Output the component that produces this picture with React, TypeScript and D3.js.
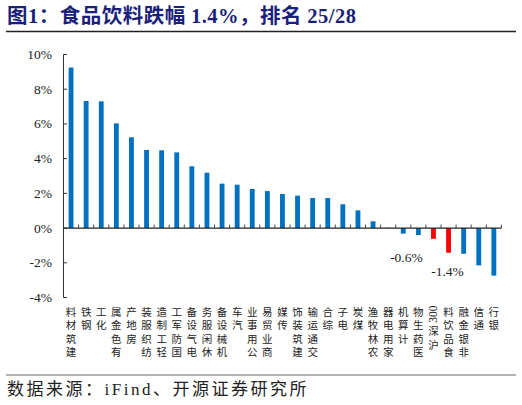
import React from "react";
import * as d3 from "d3";

const titleParts = [
  { t: "图", latin: false },
  { t: "1", latin: true },
  { t: "：食品饮料跌幅 ", latin: false },
  { t: "1.4%", latin: true },
  { t: "，排名 ", latin: false },
  { t: "25/28", latin: true },
];
const footerParts = [
  { t: "数据来源：", latin: false },
  { t: "iFind", latin: true },
  { t: "、开源证券研究所", latin: false },
];

const categories = [
  "建筑材料", "钢铁", "化工", "有色金属", "房地产", "纺织服装", "轻工制造", "国防军工",
  "电气设备", "休闲服务", "机械设备", "汽车", "公用事业", "商业贸易", "传媒", "建筑装饰",
  "交通运输", "综合", "电子", "煤炭", "农林牧渔", "家用电器", "计算机", "医药生物",
  "沪深300", "食品饮料", "非银金融", "通信", "银行",
];
const values = [
  9.25, 7.32, 7.3, 6.03, 5.23, 4.5, 4.48, 4.36,
  3.56, 3.19, 2.56, 2.5, 2.25, 2.13, 1.96, 1.87,
  1.73, 1.73, 1.37, 1.02, 0.39, 0.02, -0.32, -0.4,
  -0.62, -1.42, -1.48, -2.15, -2.74,
];
const highlighted = ["沪深300", "食品饮料"];
const dataLabels = [
  { cat: "沪深300", text: "-0.6%", dx: -27 },
  { cat: "食品饮料", text: "-1.4%", dx: -1 },
];
const yTicks = [-4, -2, 0, 2, 4, 6, 8, 10];

const W = 522;
const H = 405;
const CJK = "'Noto Sans CJK SC', 'Noto Sans', sans-serif";
const SERIF = "'Liberation Serif', 'DejaVu Serif', serif";

function tokenize(label: string) {
  const toks: { t: string; latin: boolean }[] = [];
  const re = /[A-Za-z0-9.%]+|./gu;
  let m;
  while ((m = re.exec(label)) !== null) {
    const s = m[0];
    toks.push({ t: s, latin: /^[A-Za-z0-9.%]+$/.test(s) });
  }
  return toks.reverse();
}

export default function App() {
  const x = d3.scaleBand<string>().domain(categories).range([63.5, 63.5 + 29 * 15.1]).paddingInner(0.68).paddingOuter(0.34);
  const band = d3.scaleBand<string>().domain(categories).range([63.5, 63.5 + 29 * 15.1]);
  const y = d3.scaleLinear().domain([-4, 10]).range([297.5, 54.5]);
  const y0 = y(0);

  const charStep = 13.3;
  const labelTop = 306;

  return (
    <svg width={W} height={H} style={{ position: "absolute", left: 0, top: 0, background: "#fff" }}>
      {/* title */}
      <text x={7} y={23} fontSize={20.5} letterSpacing={0.5} fontWeight={700} fill="#1b1f7c" fontFamily={CJK}>
        {titleParts.map((p, i) => (
          <tspan key={i} fontFamily={p.latin ? SERIF : CJK}>{p.t}</tspan>
        ))}
      </text>
      <line x1={6} x2={516} y1={31.5} y2={31.5} stroke="#222" strokeWidth={1.5} />

      {/* bars */}
      {categories.map((c, i) => {
        const v = values[i];
        const top = Math.min(y(v), y0);
        const h = Math.abs(y(v) - y0);
        return (
          <rect key={c} x={x(c)} y={top} width={x.bandwidth()} height={h}
            fill={highlighted.includes(c) ? "#ff0000" : "#0070c0"} />
        );
      })}

      {/* y axis */}
      <line x1={63.5} x2={63.5} y1={y(10)} y2={y(-4)} stroke="#333" strokeWidth={1} />
      {yTicks.map((t) => (
        <g key={t}>
          <line x1={63.5} x2={67} y1={y(t)} y2={y(t)} stroke="#333" strokeWidth={1} />
          <text x={52} y={y(t) + 4.5} textAnchor="end" fontSize={13.5} fontFamily={SERIF} fill="#222">{t}%</text>
        </g>
      ))}

      {/* x axis */}
      <line x1={63.5} x2={63.5 + 29 * 15.1} y1={y0} y2={y0} stroke="#222" strokeWidth={1.2} />
      {categories.map((c) => (
        <line key={c} x1={(band(c) as number) + band.bandwidth()} x2={(band(c) as number) + band.bandwidth()}
          y1={y0} y2={y0 - 3.5} stroke="#444" strokeWidth={1} />
      ))}

      {/* category labels: upright characters stacked, read bottom-to-top */}
      {categories.map((c) => {
        const cx = (band(c) as number) + band.bandwidth() / 2;
        const toks = tokenize(c);
        let cur = labelTop;
        const els: React.ReactNode[] = [];
        toks.forEach((tk, k) => {
          if (tk.latin) {
            const w = tk.t.length * 5.6;
            els.push(
              <text key={k} transform={`translate(${cx + 3.8},${cur + w}) rotate(-90)`} fontSize={11.5}
                fontFamily={SERIF} fill="#222">{tk.t}</text>
            );
            cur += w + 2.5;
          } else {
            els.push(
              <text key={k} x={cx} y={cur + 10} textAnchor="middle" fontSize={10.5} fontFamily={CJK} fill="#222">{tk.t}</text>
            );
            cur += charStep;
          }
        });
        return <g key={c}>{els}</g>;
      })}

      {/* data labels */}
      {dataLabels.map((d) => {
        const i = categories.indexOf(d.cat);
        const cx = (band(d.cat) as number) + band.bandwidth() / 2;
        return (
          <text key={d.cat} x={cx + d.dx} y={y(values[i]) + 23} textAnchor="middle" fontSize={13.5}
            fontFamily={SERIF} fill="#222">{d.text}</text>
        );
      })}

      {/* footer */}
      <line x1={6} x2={516} y1={375} y2={375} stroke="#666" strokeWidth={1} />
      <text x={7} y={395} fontSize={17} letterSpacing={2.5} fontFamily={CJK} fill="#222">
        {footerParts.map((p, i) => (
          <tspan key={i} fontFamily={p.latin ? SERIF : CJK}>{p.t}</tspan>
        ))}
      </text>
    </svg>
  );
}
